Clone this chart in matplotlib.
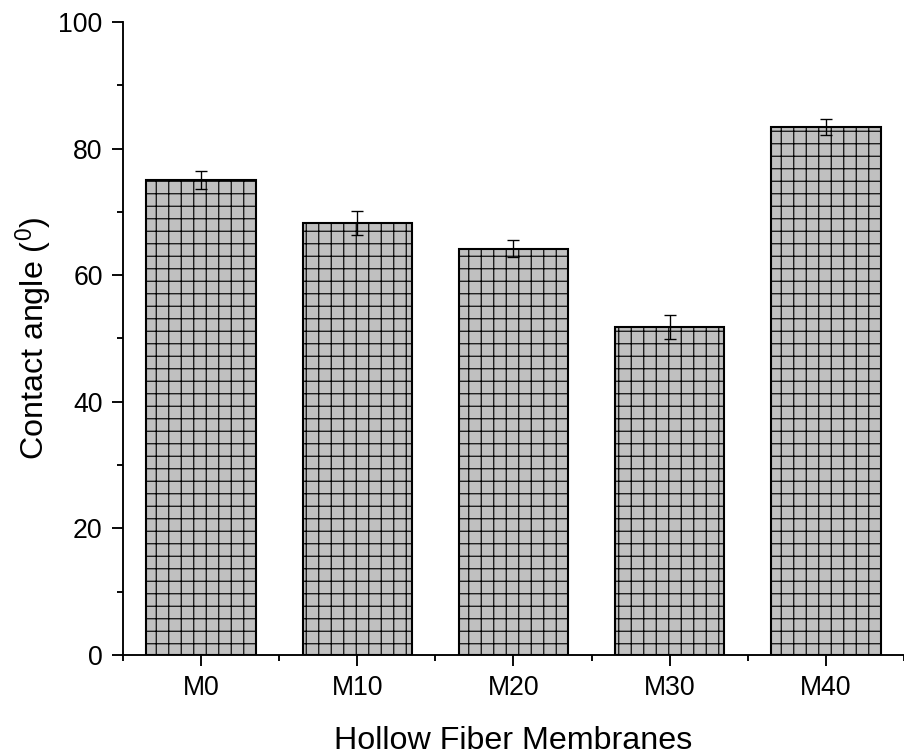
import matplotlib.pyplot as plt

membranes = ["M0", "M10", "M20", "M30", "M40"]
contact_angle = [75.0, 68.3, 64.2, 51.8, 83.4]
angle_err = [1.4, 1.9, 1.4, 1.9, 1.3]

def main():
    plt.rcParams['font.family'] = ['Liberation Sans', 'DejaVu Sans']
    plt.rcParams['mathtext.fontset'] = 'custom'
    plt.rcParams['mathtext.rm'] = 'Liberation Sans'
    plt.rcParams['hatch.linewidth'] = 1.1
    plt.rcParams['hatch.color'] = 'black'

    dpi = 75
    fig = plt.figure(figsize=(904 / dpi, 755 / dpi), dpi=dpi)
    ax = fig.add_axes([0.136, 0.1325, 0.864, 0.8385])

    x = range(len(membranes))
    ax.bar(x, contact_angle, width=0.7, color='#c0c0c0', edgecolor='black',
           linewidth=2.0, hatch='+', zorder=2)
    ax.errorbar(x, contact_angle, yerr=angle_err, fmt='none', ecolor='black',
                elinewidth=1.3, capsize=6, capthick=1.3, zorder=3)

    ax.set_xlim(-0.5, 4.5)
    ax.set_ylim(0, 100)
    ax.set_xticks(list(x))
    ax.set_xticklabels(membranes)
    ax.set_xticks([i + 0.5 for i in range(-1, len(membranes))], minor=True)
    ax.set_yticks([0, 20, 40, 60, 80, 100])
    ax.set_yticks(range(10, 100, 20), minor=True)

    for side in ['top', 'right']:
        ax.spines[side].set_visible(False)
    for side in ['left', 'bottom']:
        ax.spines[side].set_linewidth(1.8)

    ax.tick_params(which='major', direction='out', length=10.5, width=1.8, labelsize=25.5, pad=9)
    ax.tick_params(which='minor', direction='out', length=6, width=1.8)

    ax.set_xlabel("Hollow Fiber Membranes", fontsize=31, labelpad=24)
    ax.set_ylabel(r"Contact angle ($\mathregular{^0}$)", fontsize=31, labelpad=3)

    fig.savefig("out.png", dpi=dpi)

if __name__ == "__main__":
    main()
